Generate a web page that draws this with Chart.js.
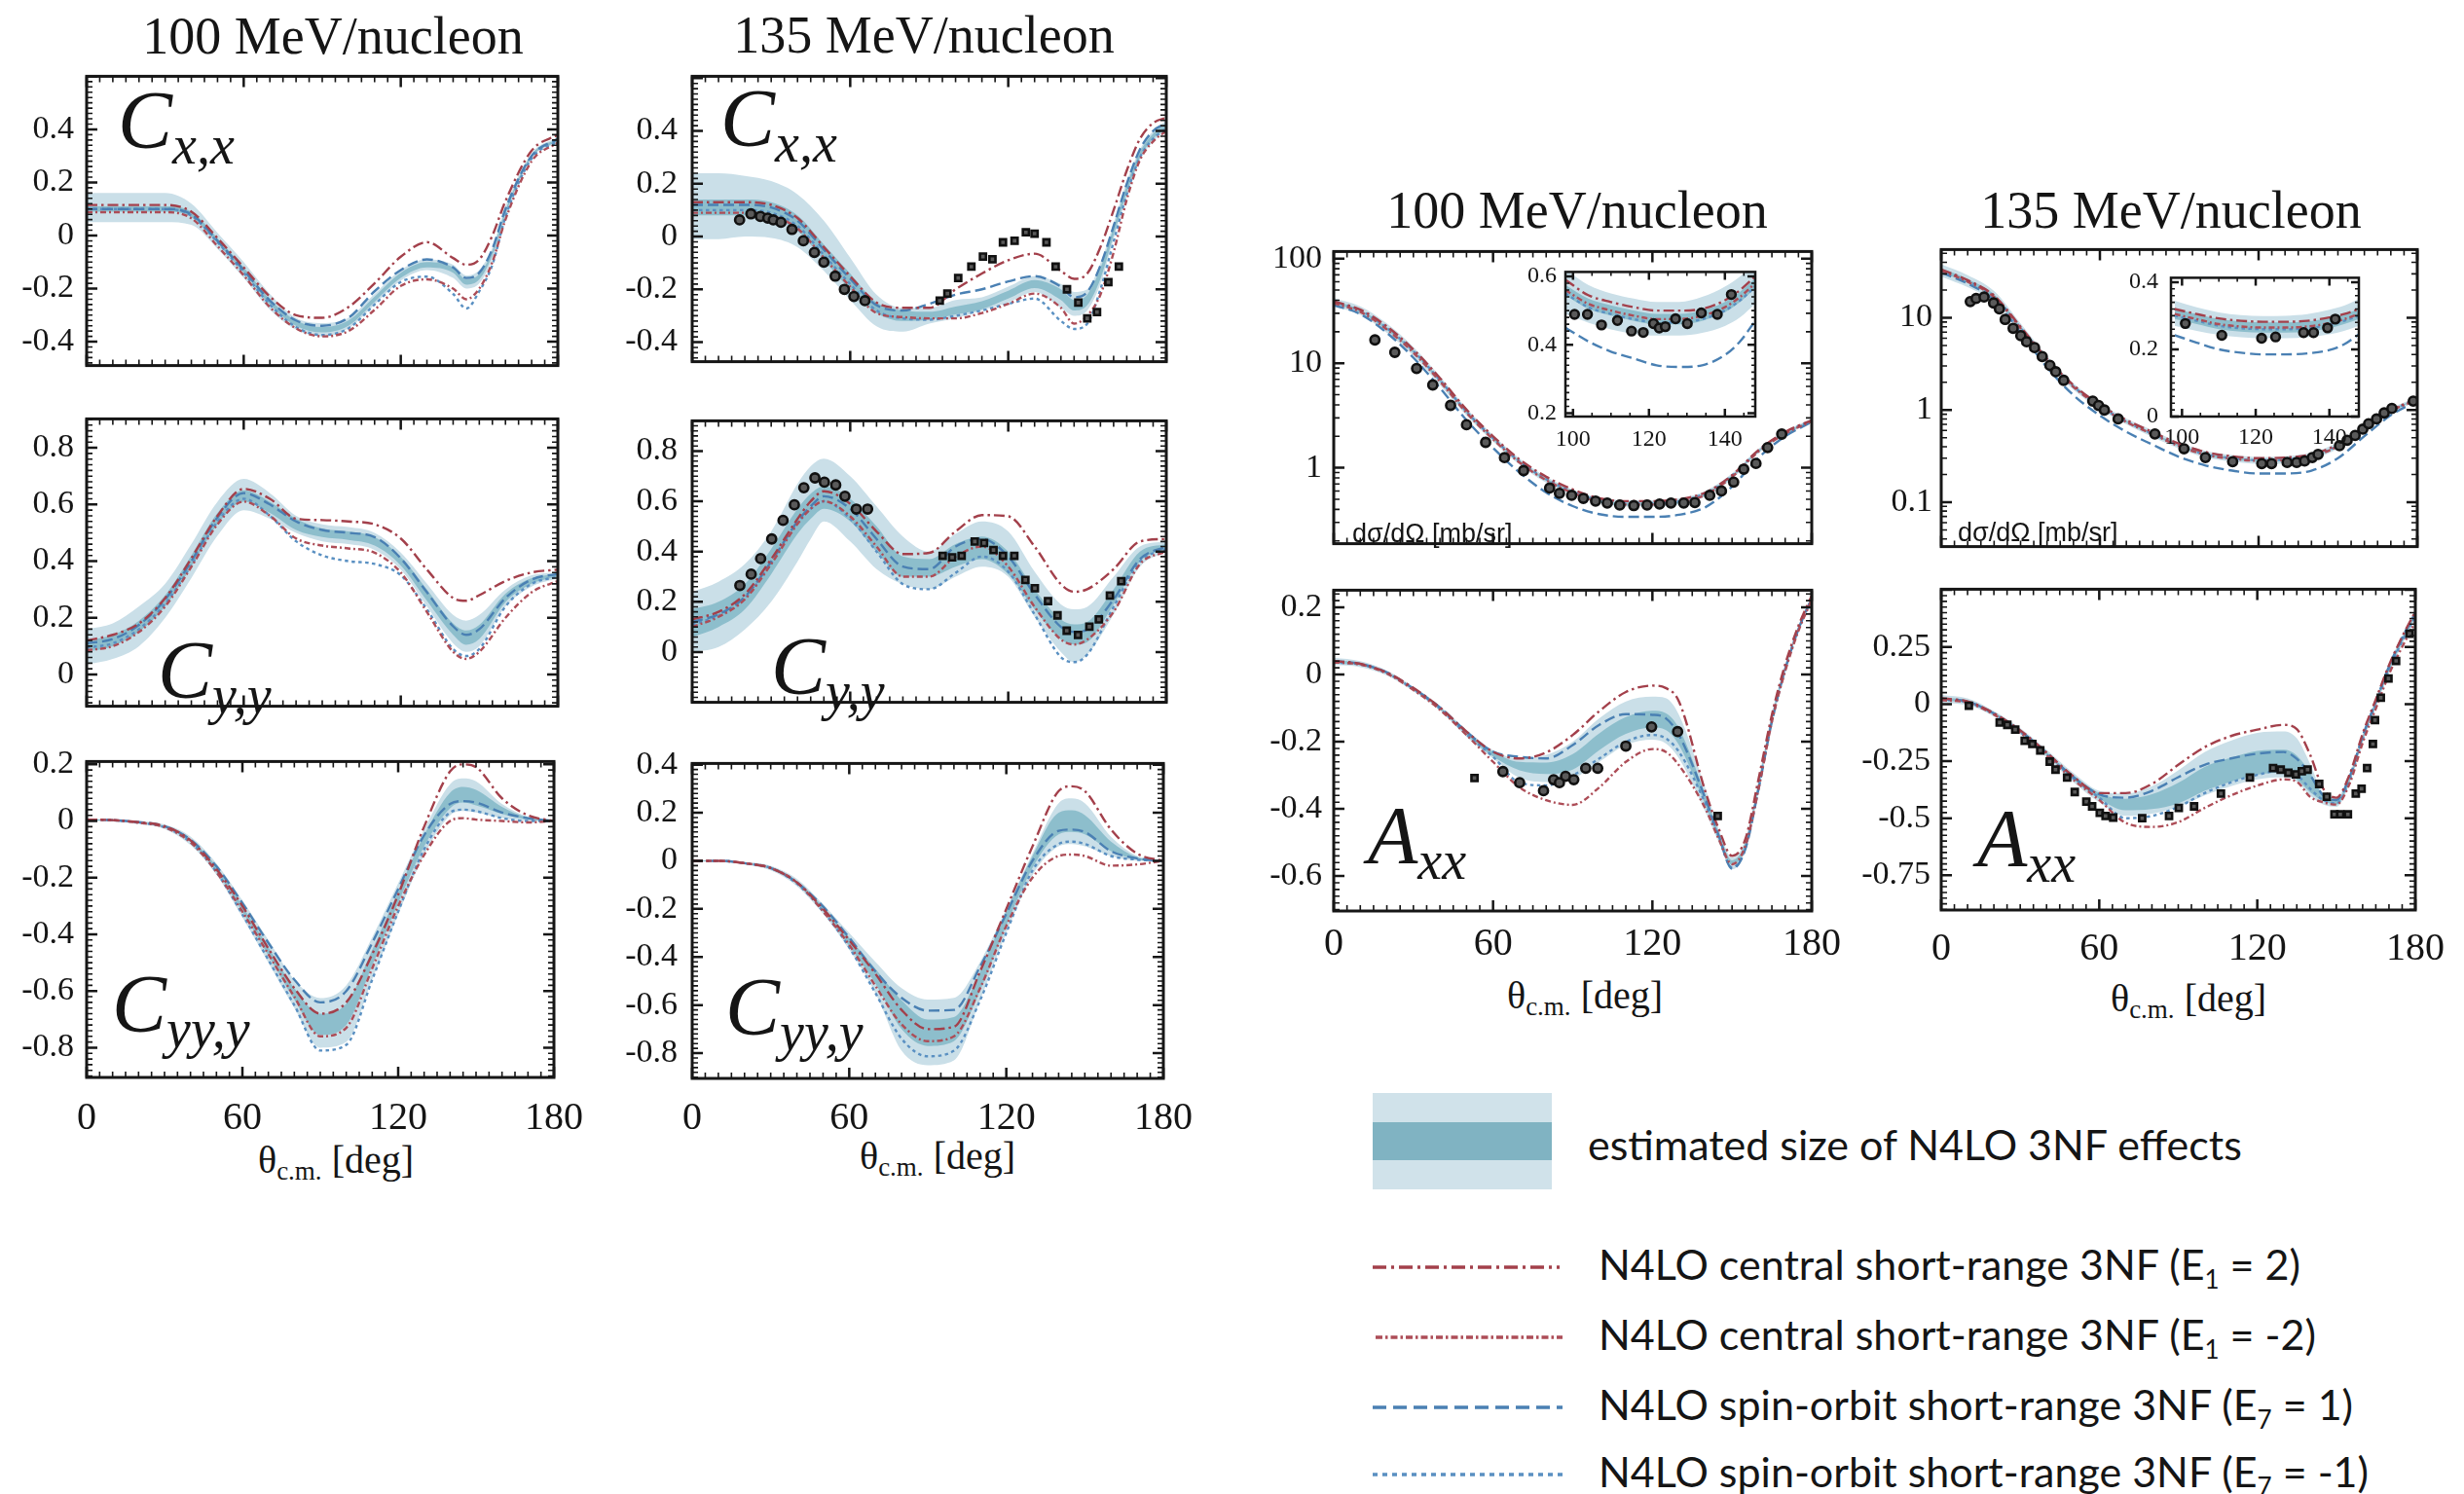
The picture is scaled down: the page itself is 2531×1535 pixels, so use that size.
<!DOCTYPE html>
<html>
<head>
<meta charset="utf-8">
<script src="https://cdn.jsdelivr.net/npm/chart.js@4.4.0/dist/chart.umd.min.js"></script>
<style>
  html, body { margin: 0; padding: 0; background: #fff; }
  body { position: relative; width: 2531px; height: 1535px; overflow: hidden;
         font-family: "Liberation Serif", "Times New Roman", serif; color: #151515; }
  canvas { position: absolute; }
  .t { position: absolute; white-space: nowrap; line-height: 1; }
  .title { font-size: 54px; transform: translate(-50%, -50%); }
  .xt { font-size: 40px; transform: translate(-50%, -50%); }
  .xt sub { font-size: 27px; vertical-align: -7px; }
  .lab { font-size: 84px; font-style: italic; }
  .lab sub { font-size: 56px; vertical-align: -16px; }
  .xs { font-family: "Liberation Sans", Arial, sans-serif; font-size: 27px; transform: translateY(-50%); }
  .leg { font-family: Lato, "Open Sans", sans-serif; font-size: 43px; transform: translateY(-50%); }
  .leg sub { font-size: 26px; vertical-align: -9px; }
</style>
</head>
<body>

<div class="t title" style="left:342px;top:37px">100 MeV/nucleon</div>
<div class="t title" style="left:949px;top:36px">135 MeV/nucleon</div>
<div class="t title" style="left:1620px;top:216px">100 MeV/nucleon</div>
<div class="t title" style="left:2230px;top:216px">135 MeV/nucleon</div>

<div class="t xt" style="left:345px;top:1194px">θ<sub>c.m.</sub> [deg]</div>
<div class="t xt" style="left:963px;top:1190px">θ<sub>c.m.</sub> [deg]</div>
<div class="t xt" style="left:1628px;top:1025px">θ<sub>c.m.</sub> [deg]</div>
<div class="t xt" style="left:2248px;top:1028px">θ<sub>c.m.</sub> [deg]</div>

<!-- legend -->
<div class="t" style="left:1410px;top:1123px;width:184px;height:99px;background:#d0e2ea">
  <div style="position:absolute;left:0;top:30px;width:184px;height:39px;background:#80b3c2"></div>
</div>
<div class="t leg" style="left:1631px;top:1175px">estimated size of N4LO 3NF effects</div>
<svg class="t" style="left:1405px;top:1280px" width="205" height="250">
  <line x1="5" y1="22" x2="197" y2="22" stroke="#a3404b" stroke-width="3.5" stroke-dasharray="14 5 3 5"/>
  <line x1="8" y1="94" x2="200" y2="94" stroke="#ad4d57" stroke-width="3.5" stroke-dasharray="7 3 2.5 3"/>
  <line x1="5" y1="166" x2="200" y2="166" stroke="#4a80b3" stroke-width="3.5" stroke-dasharray="14 7"/>
  <line x1="5" y1="235" x2="200" y2="235" stroke="#5a90c2" stroke-width="3.5" stroke-dasharray="5 5"/>
</svg>
<div class="t leg" style="left:1642px;top:1302px">N4LO central short-range 3NF (E<sub>1</sub> = 2)</div>
<div class="t leg" style="left:1642px;top:1374px">N4LO central short-range 3NF (E<sub>1</sub> = -2)</div>
<div class="t leg" style="left:1642px;top:1446px">N4LO spin-orbit short-range 3NF (E<sub>7</sub> = 1)</div>
<div class="t leg" style="left:1642px;top:1515px">N4LO spin-orbit short-range 3NF (E<sub>7</sub> = -1)</div>

<script>
// ---------- tick labels ----------
const xTicksDeg = [0, 60, 120, 180];
const xTicksInset = [100, 120, 140];
const yTicksCxx = [-0.4, -0.2, 0, 0.2, 0.4];
const yTicksCyy = [0, 0.2, 0.4, 0.6, 0.8];
const yTicksCyyy100 = [-0.8, -0.6, -0.4, -0.2, 0, 0.2];
const yTicksCyyy135 = [-0.8, -0.6, -0.4, -0.2, 0, 0.2, 0.4];
const yTicksXs100 = [1, 10, 100];
const yTicksXs135 = [0.1, 1, 10];
const yTicksIn100 = [0.2, 0.4, 0.6];
const yTicksIn135 = [0, 0.2, 0.4];
const yTicksAxx100 = [-0.6, -0.4, -0.2, 0, 0.2];
const yTicksAxx135 = [-0.75, -0.5, -0.25, 0, 0.25];

// ---------- Cx,x 100 MeV ----------
const cxx100Theta = [0,10,20,30,40,50,60,70,80,90,100,110,120,130,140,145,150,155,160,170,180];
const cxx100OutHi = [0.16,0.16,0.16,0.16,0.12,0.01,-0.10,-0.22,-0.31,-0.33,-0.31,-0.22,-0.13,-0.09,-0.11,-0.15,-0.13,-0.045,0.11,0.31,0.37];
const cxx100OutLo = [0.05,0.05,0.05,0.05,0.04,-0.05,-0.16,-0.28,-0.355,-0.38,-0.35,-0.26,-0.17,-0.13,-0.16,-0.20,-0.18,-0.09,0.065,0.29,0.35];
const cxx100InHi = [0.11,0.11,0.11,0.11,0.09,-0.01,-0.12,-0.24,-0.32,-0.345,-0.32,-0.23,-0.14,-0.10,-0.12,-0.165,-0.145,-0.058,0.095,0.305,0.365];
const cxx100InLo = [0.09,0.09,0.09,0.09,0.07,-0.03,-0.14,-0.26,-0.34,-0.365,-0.34,-0.25,-0.16,-0.12,-0.14,-0.185,-0.165,-0.075,0.08,0.295,0.355];
const cxx100E1p = [0.115,0.115,0.115,0.115,0.09,-0.01,-0.12,-0.23,-0.30,-0.31,-0.27,-0.18,-0.08,-0.025,-0.085,-0.11,-0.09,0.0,0.13,0.32,0.38];
const cxx100E1m = [0.088,0.088,0.088,0.088,0.065,-0.04,-0.15,-0.27,-0.35,-0.38,-0.36,-0.28,-0.19,-0.165,-0.20,-0.24,-0.20,-0.10,0.06,0.28,0.35];
const cxx100E7p = [0.10,0.10,0.10,0.10,0.08,-0.02,-0.13,-0.245,-0.32,-0.34,-0.31,-0.21,-0.13,-0.09,-0.12,-0.16,-0.14,-0.05,0.10,0.30,0.365];
const cxx100E7m = [0.10,0.10,0.10,0.10,0.075,-0.025,-0.14,-0.26,-0.345,-0.375,-0.35,-0.26,-0.175,-0.155,-0.22,-0.275,-0.21,-0.11,0.07,0.29,0.355];

// ---------- Cy,y 100 MeV ----------
const cyy100Theta = [0,10,20,30,40,50,60,70,80,90,100,110,120,130,140,145,150,160,170,180];
const cyy100OutHi = [0.16,0.18,0.24,0.32,0.46,0.61,0.69,0.64,0.56,0.53,0.52,0.50,0.43,0.32,0.21,0.19,0.21,0.30,0.35,0.36];
const cyy100OutLo = [0.035,0.055,0.10,0.20,0.34,0.49,0.58,0.55,0.50,0.47,0.46,0.44,0.37,0.24,0.11,0.08,0.10,0.24,0.31,0.34];
const cyy100InHi = [0.12,0.14,0.19,0.28,0.42,0.57,0.65,0.61,0.55,0.515,0.505,0.485,0.415,0.30,0.18,0.155,0.175,0.285,0.34,0.355];
const cyy100InLo = [0.08,0.10,0.15,0.24,0.38,0.53,0.61,0.57,0.51,0.485,0.475,0.455,0.385,0.26,0.14,0.105,0.125,0.255,0.32,0.345];
const cyy100E1p = [0.12,0.14,0.18,0.27,0.41,0.56,0.655,0.62,0.55,0.545,0.54,0.53,0.48,0.37,0.27,0.26,0.28,0.33,0.36,0.37];
const cyy100E1m = [0.085,0.10,0.15,0.24,0.38,0.53,0.61,0.56,0.48,0.455,0.445,0.43,0.36,0.22,0.08,0.055,0.08,0.20,0.29,0.33];
const cyy100E7p = [0.11,0.125,0.175,0.265,0.40,0.555,0.64,0.60,0.54,0.51,0.50,0.485,0.41,0.29,0.17,0.14,0.16,0.27,0.335,0.355];
const cyy100E7m = [0.095,0.11,0.16,0.25,0.385,0.54,0.62,0.56,0.47,0.42,0.40,0.39,0.35,0.23,0.09,0.065,0.09,0.24,0.32,0.345];

// ---------- Cyy,y 100 MeV ----------
const cyyy100Theta = [0,10,20,30,40,50,60,70,80,90,100,110,120,130,140,145,150,160,170,180];
const cyyy100OutHi = [0.008,0.006,0.0,-0.012,-0.055,-0.15,-0.28,-0.42,-0.56,-0.625,-0.58,-0.41,-0.22,-0.03,0.13,0.15,0.14,0.06,0.015,0.003];
const cyyy100OutLo = [0.0,-0.002,-0.01,-0.028,-0.085,-0.19,-0.34,-0.50,-0.66,-0.80,-0.78,-0.56,-0.33,-0.12,0.02,0.035,0.03,0.01,0.0,-0.003];
const cyyy100InHi = [0.006,0.004,-0.003,-0.017,-0.065,-0.16,-0.30,-0.445,-0.59,-0.68,-0.645,-0.455,-0.25,-0.05,0.10,0.12,0.11,0.05,0.012,0.002];
const cyyy100InLo = [0.003,0.001,-0.007,-0.023,-0.075,-0.18,-0.32,-0.475,-0.63,-0.755,-0.72,-0.51,-0.29,-0.09,0.045,0.065,0.055,0.025,0.005,-0.002];
const cyyy100E1p = [0.005,0.003,-0.004,-0.018,-0.068,-0.17,-0.30,-0.45,-0.59,-0.68,-0.64,-0.47,-0.26,-0.02,0.175,0.20,0.19,0.08,0.02,0.0];
const cyyy100E1m = [0.005,0.003,-0.006,-0.022,-0.075,-0.18,-0.32,-0.47,-0.62,-0.76,-0.73,-0.52,-0.30,-0.12,0.0,0.01,0.005,0.0,-0.005,0.0];
const cyyy100E7p = [0.005,0.003,-0.004,-0.018,-0.066,-0.16,-0.29,-0.43,-0.56,-0.64,-0.60,-0.43,-0.24,-0.05,0.06,0.07,0.065,0.03,0.01,0.0];
const cyyy100E7m = [0.005,0.003,-0.006,-0.022,-0.075,-0.18,-0.33,-0.49,-0.65,-0.81,-0.79,-0.56,-0.32,-0.10,0.03,0.04,0.035,0.01,0.0,0.0];

// ---------- Cx,x 135 MeV ----------
const cxx135Theta = [0,10,20,30,40,50,60,70,80,90,100,110,120,130,140,145,150,155,160,165,170,175,180];
const cxx135OutHi = [0.24,0.24,0.23,0.21,0.16,0.06,-0.08,-0.22,-0.27,-0.27,-0.24,-0.23,-0.19,-0.15,-0.18,-0.21,-0.20,-0.10,0.05,0.21,0.33,0.40,0.44];
const cxx135OutLo = [-0.01,-0.01,0.0,-0.005,-0.04,-0.13,-0.24,-0.34,-0.36,-0.33,-0.31,-0.28,-0.25,-0.21,-0.27,-0.30,-0.28,-0.18,-0.01,0.15,0.29,0.36,0.40];
const cxx135InHi = [0.14,0.14,0.14,0.13,0.08,-0.03,-0.14,-0.25,-0.28,-0.285,-0.265,-0.245,-0.205,-0.165,-0.20,-0.24,-0.22,-0.12,0.035,0.195,0.32,0.39,0.43];
const cxx135InLo = [0.08,0.08,0.08,0.07,0.02,-0.09,-0.20,-0.29,-0.32,-0.315,-0.295,-0.275,-0.235,-0.195,-0.24,-0.28,-0.26,-0.16,0.005,0.165,0.30,0.37,0.41];
const cxx135E1p = [0.13,0.13,0.13,0.12,0.07,-0.04,-0.15,-0.25,-0.27,-0.27,-0.20,-0.14,-0.09,-0.065,-0.13,-0.16,-0.14,-0.04,0.10,0.25,0.37,0.43,0.45];
const cxx135E1m = [0.09,0.09,0.09,0.08,0.03,-0.08,-0.19,-0.29,-0.305,-0.31,-0.31,-0.29,-0.255,-0.216,-0.27,-0.33,-0.30,-0.22,-0.06,0.14,0.29,0.36,0.40];
const cxx135E7p = [0.12,0.12,0.12,0.11,0.06,-0.05,-0.16,-0.26,-0.28,-0.255,-0.22,-0.20,-0.17,-0.15,-0.19,-0.23,-0.21,-0.11,0.04,0.20,0.33,0.40,0.43];
const cxx135E7m = [0.10,0.10,0.10,0.09,0.04,-0.07,-0.18,-0.28,-0.31,-0.315,-0.30,-0.28,-0.255,-0.235,-0.32,-0.35,-0.33,-0.20,-0.02,0.16,0.30,0.37,0.41];
const cxx135CircTheta = [18,22.3,25.9,28.7,30.8,33.7,37.9,42.2,46.4,50,54.3,57.8,61.4,65.6];
const cxx135CircVal = [0.063,0.086,0.076,0.07,0.063,0.054,0.027,-0.016,-0.06,-0.097,-0.15,-0.2,-0.227,-0.243];
const cxx135SqTheta = [94,96.9,101,106,110.4,114,118,122.4,126.7,130,134.5,138,142.3,146.6,150,153.7,158,162];
const cxx135SqVal = [-0.243,-0.216,-0.157,-0.114,-0.076,-0.086,-0.022,-0.016,0.016,0.011,-0.022,-0.114,-0.2,-0.25,-0.31,-0.286,-0.173,-0.114];

// ---------- Cy,y 135 MeV ----------
const cyy135Theta = [0,10,20,30,40,45,50,60,70,80,90,100,110,120,130,140,145,150,160,170,180];
const cyy135OutHi = [0.24,0.28,0.35,0.48,0.67,0.74,0.77,0.70,0.58,0.46,0.40,0.47,0.52,0.48,0.32,0.19,0.17,0.18,0.30,0.42,0.44];
const cyy135OutLo = [0.0,0.02,0.09,0.20,0.36,0.45,0.52,0.44,0.33,0.27,0.25,0.30,0.34,0.30,0.14,0.0,-0.04,-0.01,0.15,0.34,0.40];
const cyy135InHi = [0.17,0.20,0.27,0.41,0.57,0.63,0.66,0.61,0.50,0.38,0.37,0.43,0.46,0.40,0.25,0.13,0.11,0.12,0.25,0.40,0.43];
const cyy135InLo = [0.06,0.10,0.17,0.31,0.47,0.53,0.57,0.52,0.40,0.30,0.30,0.34,0.37,0.31,0.17,0.05,0.03,0.04,0.19,0.36,0.41];
const cyy135E1p = [0.13,0.16,0.23,0.37,0.53,0.60,0.64,0.59,0.48,0.39,0.395,0.48,0.545,0.54,0.42,0.27,0.24,0.25,0.33,0.44,0.45];
const cyy135E1m = [0.10,0.14,0.21,0.35,0.51,0.57,0.60,0.54,0.42,0.30,0.30,0.38,0.42,0.34,0.18,0.05,0.03,0.05,0.16,0.35,0.40];
const cyy135E7p = [0.12,0.15,0.22,0.36,0.52,0.58,0.62,0.57,0.45,0.34,0.33,0.42,0.45,0.38,0.23,0.10,0.08,0.09,0.21,0.37,0.42];
const cyy135E7m = [0.11,0.145,0.215,0.355,0.515,0.57,0.60,0.53,0.40,0.27,0.25,0.315,0.38,0.32,0.15,-0.02,-0.04,-0.01,0.18,0.36,0.41];
const cyy135CircTheta = [18.1,22.4,26,30.2,34.5,38.8,42.4,46.6,50.2,54.5,58,62.3,66.6];
const cyy135CircVal = [0.265,0.31,0.372,0.45,0.524,0.586,0.654,0.693,0.676,0.665,0.62,0.569,0.569];
const cyy135SqTheta = [95.1,98.7,102.3,107.3,110.8,114.4,118,122.3,126.5,130.1,135.1,138.7,142.2,146.5,150.8,154.4,158.6,162.9];
const cyy135SqVal = [0.383,0.377,0.383,0.44,0.434,0.406,0.383,0.383,0.287,0.254,0.203,0.146,0.085,0.068,0.101,0.13,0.225,0.282];

// ---------- Cyy,y 135 MeV ----------
const cyyy135Theta = [0,10,20,30,40,50,60,70,80,90,100,110,120,130,140,145,150,160,170,180];
const cyyy135OutHi = [0.003,0.002,-0.005,-0.02,-0.075,-0.18,-0.30,-0.42,-0.53,-0.577,-0.57,-0.42,-0.20,0.03,0.24,0.26,0.24,0.10,0.02,0.003];
const cyyy135OutLo = [-0.003,-0.003,-0.015,-0.04,-0.105,-0.22,-0.37,-0.55,-0.79,-0.85,-0.83,-0.58,-0.30,-0.06,0.06,0.07,0.06,0.02,0.0,-0.003];
const cyyy135InHi = [0.002,0.001,-0.007,-0.025,-0.083,-0.19,-0.32,-0.45,-0.58,-0.66,-0.65,-0.46,-0.21,0.02,0.20,0.21,0.19,0.08,0.015,0.002];
const cyyy135InLo = [-0.002,-0.002,-0.012,-0.035,-0.097,-0.21,-0.355,-0.51,-0.70,-0.77,-0.75,-0.54,-0.27,-0.03,0.11,0.12,0.11,0.04,0.005,-0.002];
const cyyy135E1p = [0.0,0.0,-0.01,-0.03,-0.09,-0.20,-0.33,-0.47,-0.62,-0.70,-0.69,-0.46,-0.20,0.06,0.29,0.31,0.29,0.13,0.03,0.0];
const cyyy135E1m = [0.0,0.0,-0.01,-0.03,-0.09,-0.21,-0.35,-0.52,-0.68,-0.75,-0.73,-0.53,-0.27,-0.07,0.02,0.026,0.02,-0.02,-0.015,0.0];
const cyyy135E7p = [0.0,0.0,-0.01,-0.03,-0.09,-0.19,-0.32,-0.46,-0.57,-0.623,-0.62,-0.44,-0.22,0.0,0.125,0.13,0.12,0.04,0.01,0.0];
const cyyy135E7m = [0.0,0.0,-0.01,-0.03,-0.095,-0.21,-0.36,-0.55,-0.74,-0.813,-0.79,-0.58,-0.30,-0.04,0.07,0.08,0.07,0.02,0.005,0.0];

// ---------- dsigma/dOmega 100 MeV ----------
const xs100Theta = [0,10,20,30,40,50,60,70,80,90,100,110,120,130,140,150,160,170,180];
const xs100OutHi = [42,35,24,14.3,7.5,3.7,2.05,1.22,0.82,0.62,0.52,0.49,0.49,0.51,0.6,0.88,1.52,2.25,2.95];
const xs100OutLo = [35,29,19.5,11.8,6.2,3.15,1.78,1.07,0.72,0.55,0.455,0.425,0.425,0.445,0.53,0.78,1.38,2.05,2.68];
const xs100InHi = [39.5,32.5,22.2,13.3,7.0,3.5,1.95,1.17,0.79,0.6,0.495,0.465,0.465,0.485,0.575,0.85,1.48,2.2,2.85];
const xs100InLo = [36.8,30.6,20.8,12.5,6.6,3.3,1.85,1.11,0.75,0.565,0.467,0.437,0.437,0.457,0.545,0.81,1.42,2.1,2.75];
const xs100E1p = [39,32.5,22.5,13.5,7.2,3.6,2.0,1.2,0.82,0.62,0.51,0.48,0.48,0.5,0.58,0.85,1.48,2.2,2.85];
const xs100E1m = [37.5,31,21,12.6,6.7,3.35,1.87,1.12,0.76,0.575,0.475,0.445,0.445,0.465,0.55,0.82,1.43,2.12,2.78];
const xs100E7p = [36,29.5,19.5,11.3,5.8,2.85,1.55,0.9,0.58,0.43,0.36,0.34,0.34,0.355,0.42,0.66,1.25,2.0,2.75];
const xs100E7m = [38.5,32,21.8,13.1,6.9,3.45,1.92,1.15,0.78,0.59,0.49,0.46,0.46,0.48,0.57,0.84,1.46,2.17,2.82];
const xs100PtTheta = [15.5,23,31.2,37.3,44,50,57.2,64.3,71.5,81.3,85,89.6,94,98.6,103,107.7,113,118,122.7,127,131.8,136,141.6,146,150.6,154.4,159,163.4,168.7];
const xs100PtVal = [16.7,12.7,8.9,6.2,3.95,2.58,1.75,1.25,0.94,0.64,0.57,0.545,0.51,0.48,0.46,0.44,0.435,0.44,0.45,0.46,0.46,0.465,0.545,0.6,0.73,0.97,1.1,1.56,2.1];

// inset 100 MeV
const in100Theta = [98,104,110,116,122,128,134,140,144,148];
const in100OutHi = [0.62,0.575,0.55,0.535,0.525,0.525,0.54,0.57,0.60,0.64];
const in100OutLo = [0.49,0.465,0.445,0.432,0.427,0.427,0.435,0.455,0.48,0.52];
const in100InHi = [0.575,0.535,0.515,0.50,0.49,0.49,0.50,0.525,0.555,0.595];
const in100InLo = [0.545,0.505,0.485,0.47,0.46,0.46,0.47,0.495,0.525,0.565];
const in100E1p = [0.59,0.545,0.525,0.51,0.50,0.50,0.505,0.53,0.56,0.60];
const in100E1m = [0.56,0.52,0.50,0.485,0.475,0.475,0.485,0.51,0.54,0.58];
const in100E7p = [0.45,0.41,0.38,0.36,0.34,0.335,0.34,0.37,0.41,0.47];
const in100E7m = [0.55,0.51,0.49,0.475,0.465,0.465,0.475,0.50,0.53,0.57];
const in100PtTheta = [100.4,103.8,107.5,111.7,115.4,118.5,121.2,122.7,124.3,127,130.1,133.8,138,141.7];
const in100PtVal = [0.489,0.489,0.458,0.471,0.44,0.436,0.462,0.449,0.453,0.476,0.462,0.493,0.489,0.547];

// ---------- Axx 100 MeV ----------
const axx100Theta = [0,10,20,30,40,50,60,70,80,90,100,110,120,125,130,140,145,150,155,160,165,170,175,180];
const axx100OutHi = [0.05,0.04,0.012,-0.036,-0.093,-0.165,-0.225,-0.25,-0.24,-0.20,-0.13,-0.08,-0.066,-0.07,-0.12,-0.34,-0.46,-0.545,-0.49,-0.31,-0.115,0.03,0.145,0.235];
const axx100OutLo = [0.028,0.022,-0.003,-0.05,-0.107,-0.185,-0.25,-0.308,-0.32,-0.31,-0.26,-0.21,-0.194,-0.205,-0.25,-0.41,-0.50,-0.58,-0.525,-0.35,-0.15,0.008,0.128,0.22];
const axx100InHi = [0.043,0.035,0.008,-0.04,-0.097,-0.17,-0.23,-0.26,-0.262,-0.237,-0.175,-0.127,-0.108,-0.115,-0.16,-0.36,-0.47,-0.553,-0.5,-0.32,-0.125,0.025,0.14,0.23];
const axx100InLo = [0.033,0.027,0.002,-0.046,-0.103,-0.18,-0.244,-0.285,-0.296,-0.283,-0.225,-0.177,-0.158,-0.165,-0.21,-0.39,-0.49,-0.567,-0.515,-0.34,-0.14,0.013,0.133,0.224];
const axx100E1p = [0.04,0.032,0.006,-0.04,-0.098,-0.17,-0.23,-0.25,-0.232,-0.18,-0.109,-0.052,-0.033,-0.04,-0.08,-0.35,-0.46,-0.54,-0.49,-0.31,-0.12,0.03,0.145,0.235];
const axx100E1m = [0.036,0.03,0.003,-0.046,-0.105,-0.18,-0.26,-0.336,-0.374,-0.388,-0.336,-0.26,-0.222,-0.23,-0.27,-0.40,-0.49,-0.565,-0.51,-0.34,-0.14,0.01,0.13,0.222];
const axx100E7p = [0.04,0.032,0.006,-0.042,-0.098,-0.17,-0.23,-0.245,-0.25,-0.21,-0.15,-0.118,-0.12,-0.13,-0.18,-0.37,-0.48,-0.578,-0.52,-0.34,-0.14,0.015,0.135,0.227];
const axx100E7m = [0.036,0.03,0.004,-0.044,-0.102,-0.178,-0.245,-0.322,-0.33,-0.30,-0.25,-0.20,-0.18,-0.19,-0.23,-0.385,-0.485,-0.575,-0.515,-0.335,-0.135,0.015,0.135,0.225];
const axx100CircTheta = [63.7,70,79,82.8,85,87.3,90.4,94.9,99.4,110,119.7,129.5];
const axx100CircVal = [-0.289,-0.322,-0.346,-0.313,-0.322,-0.303,-0.313,-0.279,-0.279,-0.213,-0.156,-0.17];
const axx100SqTheta = [53,144.6];
const axx100SqVal = [-0.308,-0.421];

// ---------- dsigma/dOmega 135 MeV ----------
const xs135Theta = [0,10,20,30,40,50,60,70,80,90,100,110,120,130,140,150,160,170,180];
const xs135OutHi = [38,29,19.5,8.7,3.85,1.95,1.19,0.81,0.6,0.445,0.36,0.325,0.31,0.315,0.345,0.445,0.69,1.04,1.38];
const xs135OutLo = [28,21.5,14.8,7.0,3.2,1.66,1.02,0.70,0.51,0.38,0.305,0.275,0.26,0.265,0.29,0.38,0.6,0.93,1.23];
const xs135InHi = [34.5,26.3,17.9,8.1,3.62,1.86,1.13,0.77,0.565,0.42,0.34,0.31,0.294,0.3,0.325,0.42,0.655,1.0,1.32];
const xs135InLo = [31.2,23.8,16.2,7.5,3.38,1.74,1.07,0.73,0.535,0.40,0.32,0.29,0.276,0.28,0.305,0.40,0.625,0.96,1.28];
const xs135E1p = [33.5,25.6,17.4,8.0,3.6,1.86,1.14,0.78,0.575,0.43,0.35,0.315,0.30,0.305,0.33,0.425,0.66,1.0,1.32];
const xs135E1m = [32.5,24.7,16.8,7.7,3.45,1.78,1.09,0.74,0.545,0.405,0.326,0.296,0.281,0.286,0.311,0.405,0.635,0.975,1.29];
const xs135E7p = [31,23.5,15.6,6.9,2.9,1.45,0.87,0.58,0.42,0.31,0.25,0.22,0.205,0.205,0.22,0.3,0.52,0.88,1.25];
const xs135E7m = [32.8,25,17,7.8,3.5,1.8,1.1,0.75,0.55,0.41,0.33,0.30,0.285,0.29,0.315,0.41,0.64,0.98,1.3];
const xs135PtTheta = [11,13.2,16.2,19.8,22,24.2,27.2,30.1,32.3,35.3,38.2,41.1,43.3,46.3,57.3,59.5,61.7,66.9,80.8,91.8,99.9,110.2,121.2,124.9,130.8,134.4,137.4,140.3,142.5,150.6,153.5,156.5,159.4,161.6,164.6,167.5,170.4,178.5];
const xs135PtVal = [15,16.2,16.8,14.5,12.5,9.6,7.7,6.4,5.5,4.75,3.8,3.05,2.6,2.1,1.25,1.12,1.0,0.8,0.55,0.38,0.305,0.275,0.262,0.262,0.27,0.27,0.28,0.305,0.33,0.41,0.47,0.53,0.62,0.71,0.8,0.93,1.04,1.25];

// inset 135 MeV
const in135Theta = [98,104,110,116,122,128,134,140,144,148];
const in135OutHi = [0.345,0.325,0.31,0.302,0.299,0.30,0.305,0.318,0.33,0.35];
const in135OutLo = [0.27,0.255,0.243,0.236,0.233,0.233,0.236,0.245,0.255,0.27];
const in135InHi = [0.32,0.305,0.29,0.283,0.28,0.28,0.283,0.293,0.305,0.32];
const in135InLo = [0.29,0.275,0.26,0.253,0.25,0.25,0.253,0.263,0.275,0.29];
const in135E1p = [0.32,0.305,0.292,0.285,0.282,0.282,0.285,0.295,0.305,0.32];
const in135E1m = [0.305,0.29,0.275,0.268,0.265,0.265,0.268,0.278,0.29,0.305];
const in135E7p = [0.242,0.22,0.2,0.19,0.185,0.185,0.188,0.198,0.215,0.245];
const in135E7m = [0.30,0.285,0.27,0.263,0.26,0.26,0.263,0.273,0.285,0.30];
const in135PtTheta = [100.9,110.8,121.6,125.4,133,135.7,139.5,141.6];
const in135PtVal = [0.277,0.242,0.233,0.237,0.25,0.25,0.264,0.29];

// ---------- Axx 135 MeV ----------
const axx135Theta = [0,10,20,30,40,50,60,70,80,90,100,110,120,130,135,140,145,150,155,160,165,170,175,180];
const axx135OutHi = [0.04,0.025,-0.03,-0.105,-0.2,-0.30,-0.38,-0.392,-0.36,-0.29,-0.21,-0.16,-0.126,-0.12,-0.15,-0.26,-0.39,-0.41,-0.31,-0.13,0.025,0.175,0.30,0.41];
const axx135OutLo = [0.005,-0.005,-0.055,-0.133,-0.234,-0.34,-0.43,-0.49,-0.48,-0.45,-0.40,-0.36,-0.33,-0.32,-0.34,-0.40,-0.44,-0.45,-0.35,-0.17,-0.015,0.135,0.26,0.37];
const axx135InHi = [0.028,0.016,-0.036,-0.112,-0.21,-0.31,-0.39,-0.415,-0.395,-0.345,-0.275,-0.235,-0.205,-0.2,-0.225,-0.30,-0.40,-0.42,-0.32,-0.14,0.015,0.165,0.29,0.40];
const axx135InLo = [0.014,0.004,-0.048,-0.126,-0.224,-0.33,-0.415,-0.465,-0.46,-0.435,-0.38,-0.34,-0.31,-0.30,-0.33,-0.385,-0.425,-0.44,-0.34,-0.16,-0.005,0.145,0.27,0.38];
const axx135E1p = [0.025,0.012,-0.04,-0.115,-0.212,-0.315,-0.39,-0.39,-0.35,-0.266,-0.189,-0.14,-0.112,-0.091,-0.11,-0.22,-0.37,-0.41,-0.31,-0.13,0.02,0.17,0.295,0.405];
const axx135E1m = [0.017,0.006,-0.046,-0.125,-0.225,-0.33,-0.42,-0.52,-0.538,-0.517,-0.455,-0.40,-0.357,-0.33,-0.34,-0.406,-0.43,-0.44,-0.35,-0.17,-0.02,0.13,0.25,0.36];
const axx135E7p = [0.023,0.011,-0.041,-0.117,-0.214,-0.318,-0.395,-0.41,-0.38,-0.32,-0.266,-0.238,-0.217,-0.21,-0.24,-0.31,-0.40,-0.42,-0.32,-0.14,0.01,0.165,0.29,0.40];
const axx135E7m = [0.019,0.008,-0.044,-0.122,-0.22,-0.325,-0.41,-0.50,-0.49,-0.45,-0.39,-0.343,-0.31,-0.29,-0.31,-0.37,-0.42,-0.435,-0.335,-0.155,0.0,0.15,0.275,0.385];
const axx135PtTheta = [10.5,22.2,25.1,28.1,31.7,34.6,37.6,41.2,43.4,47.8,50.7,55.1,57.3,60.2,62.4,65.3,76.3,86.5,90.2,96,106.2,117.2,126,128.9,131.8,134.7,136.9,139.1,143.5,146.4,149.3,151.5,154.4,157.4,159.6,161.7,163.9,164.7,166.9,169.8,172.7,177.8];
const axx135PtVal = [-0.007,-0.081,-0.091,-0.112,-0.161,-0.175,-0.203,-0.252,-0.287,-0.322,-0.385,-0.427,-0.448,-0.476,-0.49,-0.497,-0.5,-0.49,-0.455,-0.448,-0.392,-0.322,-0.28,-0.287,-0.301,-0.308,-0.294,-0.287,-0.35,-0.406,-0.483,-0.483,-0.483,-0.392,-0.371,-0.28,-0.175,-0.07,0.028,0.112,0.189,0.308];

// ---------- styles ----------
const SERIF = "'Liberation Serif', 'Times New Roman', serif";
const BAND_OUT = '#cadfe8', BAND_IN = '#8dbecc';
const STY = {
  e1p: { c: '#a3404b', d: [11, 4, 2.5, 4] },
  e1m: { c: '#ad4d57', d: [6, 3, 2, 3] },
  e7p: { c: '#4a80b3', d: [11, 5] },
  e7m: { c: '#5a90c2', d: [3.5, 3.5] },
};
const LIN = { xMinor: 5, xMajor: 60, yMinor: 0.02, yMajor: 0.2 };
const LOG = { xMinor: 5, xMajor: 60, log: true };
const INSET = { xMinor: 5, xMajor: 20, yMinor: 0.02, yMajor: 0.2, lw: 2.5, major: 8, minor: 4, bg: '#fff' };

// inward ticks on all four sides + frame
const frameTicks = {
  id: 'frameTicks',
  beforeDraw(chart, args, o) {
    if (!o.bg) return;
    const a = chart.chartArea, ctx = chart.ctx;
    ctx.save();
    ctx.fillStyle = o.bg;
    ctx.fillRect(a.left, a.top, a.right - a.left, a.bottom - a.top);
    ctx.restore();
  },
  afterDraw(chart, args, o) {
    const { ctx, chartArea: a } = chart, x = chart.scales.x, y = chart.scales.y;
    const majL = o.major || 11, minL = o.minor || 6;
    ctx.save();
    ctx.strokeStyle = '#161616';
    const near = (v, s) => Math.abs(v / s - Math.round(v / s)) < 1e-6;
    // x ticks
    for (let n = Math.ceil(x.min / o.xMinor - 1e-9); n <= Math.floor(x.max / o.xMinor + 1e-9); n++) {
      const v = n * o.xMinor, px = x.getPixelForValue(v), big = near(v, o.xMajor);
      const len = big ? majL : minL;
      ctx.lineWidth = big ? 2.5 : 1.6;
      ctx.beginPath();
      ctx.moveTo(px, a.bottom); ctx.lineTo(px, a.bottom - len);
      ctx.moveTo(px, a.top); ctx.lineTo(px, a.top + len);
      ctx.stroke();
    }
    // y ticks
    const yt = [];
    if (o.log) {
      for (let d = Math.floor(Math.log10(y.min)); d <= Math.ceil(Math.log10(y.max)); d++) {
        for (let m = 1; m <= 9; m++) {
          const v = m * Math.pow(10, d);
          if (v >= y.min && v <= y.max) yt.push([v, m === 1]);
        }
      }
    } else {
      for (let n = Math.ceil(y.min / o.yMinor - 1e-9); n <= Math.floor(y.max / o.yMinor + 1e-9); n++) {
        const v = n * o.yMinor;
        yt.push([v, near(v, o.yMajor)]);
      }
    }
    yt.forEach(([v, big]) => {
      const py = y.getPixelForValue(v), len = big ? majL : minL;
      ctx.lineWidth = big ? 2.5 : 1.6;
      ctx.beginPath();
      ctx.moveTo(a.left, py); ctx.lineTo(a.left + len, py);
      ctx.moveTo(a.right, py); ctx.lineTo(a.right - len, py);
      ctx.stroke();
    });
    ctx.lineWidth = o.lw || 3;
    ctx.strokeRect(a.left, a.top, a.right - a.left, a.bottom - a.top);
    ctx.restore();
  }
};

function curves(th, oHi, oLo, iHi, iLo, e1p, e1m, e7p, e7m) {
  const xy = v => th.map((t, i) => ({ x: t, y: v[i] }));
  const band = (v, fill, color, order) => ({ data: xy(v), fill, backgroundColor: color, borderWidth: 0, pointRadius: 0, order });
  const line = (v, s) => ({ data: xy(v), fill: false, borderColor: s.c, borderWidth: 2.4, borderDash: s.d, pointRadius: 0, order: 5 });
  return [
    band(oHi, '+1', BAND_OUT, 20), band(oLo, false, BAND_OUT, 20),
    band(iHi, '+1', BAND_IN, 19), band(iLo, false, BAND_IN, 19),
    line(e1p, STY.e1p), line(e1m, STY.e1m), line(e7p, STY.e7p), line(e7m, STY.e7m),
  ];
}

function points(th, v, style, r) {
  return {
    data: th.map((t, i) => ({ x: t, y: v[i] })), showLine: false, order: 1,
    pointStyle: style, pointRadius: r || 4.6, pointBorderWidth: 2.6,
    pointBorderColor: '#111', pointBackgroundColor: '#5a5a5a',
    borderColor: '#111', backgroundColor: '#5a5a5a',
  };
}

function panel(p) {
  const yw = p.yw || 90, xh = p.showX ? 70 : 2, padL = 2, padT = p.padT || 26, padR = p.padR || 44, padB = 2;
  const W = p.r - p.l + yw + padL + padR, H = p.b - p.t + padT + xh + padB;
  const cv = document.createElement('canvas');
  cv.width = W; cv.height = H;
  cv.style.left = (p.l - yw - padL) + 'px';
  cv.style.top = (p.t - padT) + 'px';
  document.body.appendChild(cv);
  return new Chart(cv, {
    type: 'line',
    data: { datasets: p.datasets },
    options: {
      responsive: false, animation: false, devicePixelRatio: 1,
      layout: { autoPadding: false, padding: { left: padL, top: padT, right: padR, bottom: padB } },
      elements: { line: { cubicInterpolationMode: 'monotone' } },
      plugins: { legend: { display: false }, tooltip: { enabled: false }, frameTicks: p.frame },
      scales: {
        x: {
          type: 'linear', min: p.xr[0], max: p.xr[1], bounds: 'data',
          grid: { display: false, drawTicks: false }, border: { display: false },
          ticks: { display: !!p.showX, autoSkip: false, maxRotation: 0, padding: p.xpad || 17,
                   color: '#151515', font: { family: SERIF, size: p.xfs || 40 }, callback: v => String(v) },
          afterBuildTicks: s => { s.ticks = p.xTicks.map(v => ({ value: v })); },
          afterFit: s => { s.height = xh; },
        },
        y: {
          type: p.log ? 'logarithmic' : 'linear', min: p.yr[0], max: p.yr[1], bounds: 'data',
          grid: { display: false, drawTicks: false }, border: { display: false },
          ticks: { autoSkip: false, padding: p.ypad || 13, color: '#151515',
                   font: { family: SERIF, size: p.fs || 34 }, callback: v => String(v) },
          afterBuildTicks: s => { s.ticks = p.yTicks.map(v => ({ value: v })); },
          afterFit: s => { s.width = yw; },
        },
      },
    },
    plugins: [frameTicks],
  });
}

// ----- left column: 100 MeV -----
panel({ l: 89, r: 573, t: 71, b: 405, xr: [0, 180], yr: [-0.49, 0.6], xTicks: xTicksDeg, yTicks: yTicksCxx, frame: LIN,
  datasets: curves(cxx100Theta, cxx100OutHi, cxx100OutLo, cxx100InHi, cxx100InLo, cxx100E1p, cxx100E1m, cxx100E7p, cxx100E7m) });
panel({ l: 89, r: 573, t: 423, b: 755, xr: [0, 180], yr: [-0.112, 0.902], xTicks: xTicksDeg, yTicks: yTicksCyy, frame: LIN,
  datasets: curves(cyy100Theta, cyy100OutHi, cyy100OutLo, cyy100InHi, cyy100InLo, cyy100E1p, cyy100E1m, cyy100E7p, cyy100E7m) });
panel({ l: 89, r: 573, t: 775, b: 1107, xr: [0, 180], yr: [-0.905, 0.21], xTicks: xTicksDeg, yTicks: yTicksCyyy100, frame: LIN, showX: true, xpad: 18,
  datasets: curves(cyyy100Theta, cyyy100OutHi, cyyy100OutLo, cyyy100InHi, cyyy100InLo, cyyy100E1p, cyyy100E1m, cyyy100E7p, cyyy100E7m) });

// ----- second column: 135 MeV -----
panel({ l: 711, r: 1198, t: 69, b: 403, xr: [0, 180], yr: [-0.474, 0.607], xTicks: xTicksDeg, yTicks: yTicksCxx, frame: LIN, ypad: 15,
  datasets: curves(cxx135Theta, cxx135OutHi, cxx135OutLo, cxx135InHi, cxx135InLo, cxx135E1p, cxx135E1m, cxx135E7p, cxx135E7m)
    .concat([points(cxx135CircTheta, cxx135CircVal, 'circle'), points(cxx135SqTheta, cxx135SqVal, 'rect', 4.4)]) });
panel({ l: 711, r: 1198, t: 423, b: 753, xr: [0, 180], yr: [-0.2, 0.92], xTicks: xTicksDeg, yTicks: yTicksCyy, frame: LIN, ypad: 15,
  datasets: curves(cyy135Theta, cyy135OutHi, cyy135OutLo, cyy135InHi, cyy135InLo, cyy135E1p, cyy135E1m, cyy135E7p, cyy135E7m)
    .concat([points(cyy135CircTheta, cyy135CircVal, 'circle'), points(cyy135SqTheta, cyy135SqVal, 'rect', 4.4)]) });
panel({ l: 711, r: 1198, t: 775, b: 1108, xr: [0, 180], yr: [-0.905, 0.405], xTicks: xTicksDeg, yTicks: yTicksCyyy135, frame: LIN, showX: true, ypad: 15, xpad: 17,
  datasets: curves(cyyy135Theta, cyyy135OutHi, cyyy135OutLo, cyyy135InHi, cyyy135InLo, cyyy135E1p, cyyy135E1m, cyyy135E7p, cyyy135E7m) });

// ----- right block: 100 MeV -----
panel({ l: 1370, r: 1861, t: 252, b: 587, xr: [0, 180], yr: [0.188, 117], log: true, xTicks: xTicksDeg, yTicks: yTicksXs100, frame: LOG, ypad: 12,
  datasets: curves(xs100Theta, xs100OutHi, xs100OutLo, xs100InHi, xs100InLo, xs100E1p, xs100E1m, xs100E7p, xs100E7m)
    .concat([points(xs100PtTheta, xs100PtVal, 'circle')]) });
panel({ l: 1370, r: 1861, t: 600, b: 936, xr: [0, 180], yr: [-0.704, 0.251], xTicks: xTicksDeg, yTicks: yTicksAxx100, frame: LIN, showX: true, ypad: 12, xpad: 10,
  datasets: curves(axx100Theta, axx100OutHi, axx100OutLo, axx100InHi, axx100InLo, axx100E1p, axx100E1m, axx100E7p, axx100E7m)
    .concat([points(axx100CircTheta, axx100CircVal, 'circle'), points(axx100SqTheta, axx100SqVal, 'rect', 4.4)]) });
panel({ l: 1608, r: 1803, t: 270, b: 428, xr: [98, 148], yr: [0.19, 0.613], xTicks: xTicksInset, yTicks: yTicksIn100, frame: INSET,
  showX: true, yw: 50, padT: 14, padR: 24, fs: 24, xfs: 24, xpad: 9, ypad: 9,
  datasets: curves(in100Theta, in100OutHi, in100OutLo, in100InHi, in100InLo, in100E1p, in100E1m, in100E7p, in100E7m)
    .concat([points(in100PtTheta, in100PtVal, 'circle', 4.4)]) });

// ----- right block: 135 MeV -----
panel({ l: 1994, r: 2483, t: 253, b: 587, xr: [0, 180], yr: [0.033, 55], log: true, xTicks: xTicksDeg, yTicks: yTicksXs135, frame: LOG, ypad: 9,
  datasets: curves(xs135Theta, xs135OutHi, xs135OutLo, xs135InHi, xs135InLo, xs135E1p, xs135E1m, xs135E7p, xs135E7m)
    .concat([points(xs135PtTheta, xs135PtVal, 'circle')]) });
panel({ l: 1994, r: 2483, t: 600, b: 935, xr: [0, 180], yr: [-0.902, 0.503], xTicks: xTicksDeg, yTicks: yTicksAxx135,
  frame: { xMinor: 5, xMajor: 60, yMinor: 0.025, yMajor: 0.25 }, showX: true, ypad: 11, xpad: 16,
  datasets: curves(axx135Theta, axx135OutHi, axx135OutLo, axx135InHi, axx135InLo, axx135E1p, axx135E1m, axx135E7p, axx135E7m)
    .concat([points(axx135PtTheta, axx135PtVal, 'rect', 4.4)]) });
panel({ l: 2230, r: 2423, t: 272, b: 428, xr: [97, 148], yr: [0, 0.413], xTicks: xTicksInset, yTicks: yTicksIn135, frame: INSET,
  showX: true, yw: 50, padT: 14, padR: 24, fs: 24, xfs: 24, xpad: 7, ypad: 13,
  datasets: curves(in135Theta, in135OutHi, in135OutLo, in135InHi, in135InLo, in135E1p, in135E1m, in135E7p, in135E7m)
    .concat([points(in135PtTheta, in135PtVal, 'circle', 4.4)]) });
</script>

<!-- panel labels and axis-quantity labels (drawn over the charts) -->
<div class="t lab" style="left:121px;top:82px">C<sub>x,x</sub></div>
<div class="t lab" style="left:162px;top:647px">C<sub>y,y</sub></div>
<div class="t lab" style="left:115px;top:990px">C<sub>yy,y</sub></div>
<div class="t lab" style="left:740px;top:80px">C<sub>x,x</sub></div>
<div class="t lab" style="left:792px;top:643px">C<sub>y,y</sub></div>
<div class="t lab" style="left:745px;top:993px">C<sub>yy,y</sub></div>
<div class="t lab" style="left:1405px;top:817px">A<sub>xx</sub></div>
<div class="t lab" style="left:2031px;top:820px">A<sub>xx</sub></div>
<div class="t xs" style="left:1389px;top:548px">dσ/dΩ [mb/sr]</div>
<div class="t xs" style="left:2011px;top:547px">dσ/dΩ [mb/sr]</div>
</body>
</html>
